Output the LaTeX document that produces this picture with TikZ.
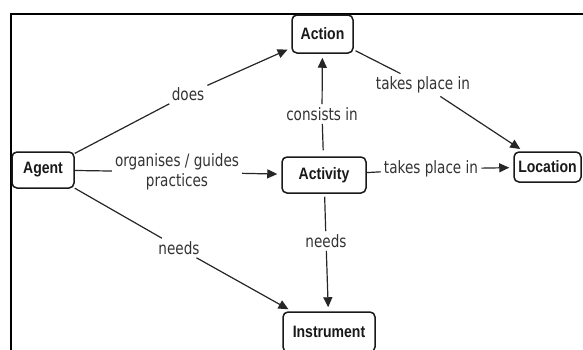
\documentclass[tikz,border=0pt]{standalone}
\usepackage{fontspec}
\usetikzlibrary{arrows.meta}
\newfontfamily\cnodefont[FakeStretch=0.85]{Liberation Sans}
\newfontfamily\clabfont[FakeStretch=0.8]{DejaVu Sans}
\tikzset{
  concept/.style={draw=black!90, line width=1.5pt, rounded corners=5pt, inner sep=0pt,
    font=\cnodefont\bfseries\fontsize{16.5}{19}\selectfont, text=black!90},
  lab/.style={font=\clabfont\fontsize{17}{20}\selectfont, inner sep=3pt, align=center, text=black!80},
  conn/.style={line width=1.2pt, draw=black!85},
  arr/.style={conn, -{Triangle[length=10pt,width=9pt]}, shorten >=4pt},
  frame/.style={line width=2pt, draw=black}
}
\begin{document}
\begin{tikzpicture}[x=1pt, y=-1pt]
\useasboundingbox (0,0) rectangle (583,349);
\clip (0,0) rectangle (583,349);
\fill[white] (0,0) rectangle (583,349);
\draw[frame] (11,360) -- (11,14) -- (600,14);

\node[concept, minimum width=61pt, minimum height=38pt] (action) at (322.5,34) {Action};
\node[concept, minimum width=62pt, minimum height=36pt] (agent) at (43,170) {Agent};
\node[concept, minimum width=84pt, minimum height=36pt] (activity) at (324,175) {Activity};
\node[concept, minimum width=67pt, minimum height=30pt] (location) at (547.5,167) {Location};
\node[concept, minimum width=92pt, minimum height=40pt] (instrument) at (329,332) {Instrument};

\node[lab] (l1) at (188,94) {does};
\node[lab] (l2) at (177,172) {organises / guides\\practices};
\node[lab] (l3) at (322,114) {consists in};
\node[lab] (l4) at (423,85) {takes place in};
\node[lab] (l5) at (431,169) {takes place in};
\node[lab] (l6) at (179,248) {needs};
\node[lab] (l7) at (326,241) {needs};

\draw[conn] (agent) -- (l1);
\draw[arr] (l1) -- (action);
\draw[conn] (agent) -- (l2);
\draw[arr] (l2) -- (activity);
\draw[conn, shorten <=6pt] (activity) -- (l3);
\draw[arr] (l3) -- (action);
\draw[conn, shorten <=2pt] (action) -- (l4);
\draw[arr] (l4) -- (location);
\draw[conn] (activity) -- (l5);
\draw[arr] (l5) -- (location);
\draw[conn] (agent) -- (l6);
\draw[arr] (l6) -- (instrument);
\draw[conn, shorten <=3pt] (activity) -- (l7);
\draw[arr] (l7) -- (instrument);
\end{tikzpicture}
\end{document}
